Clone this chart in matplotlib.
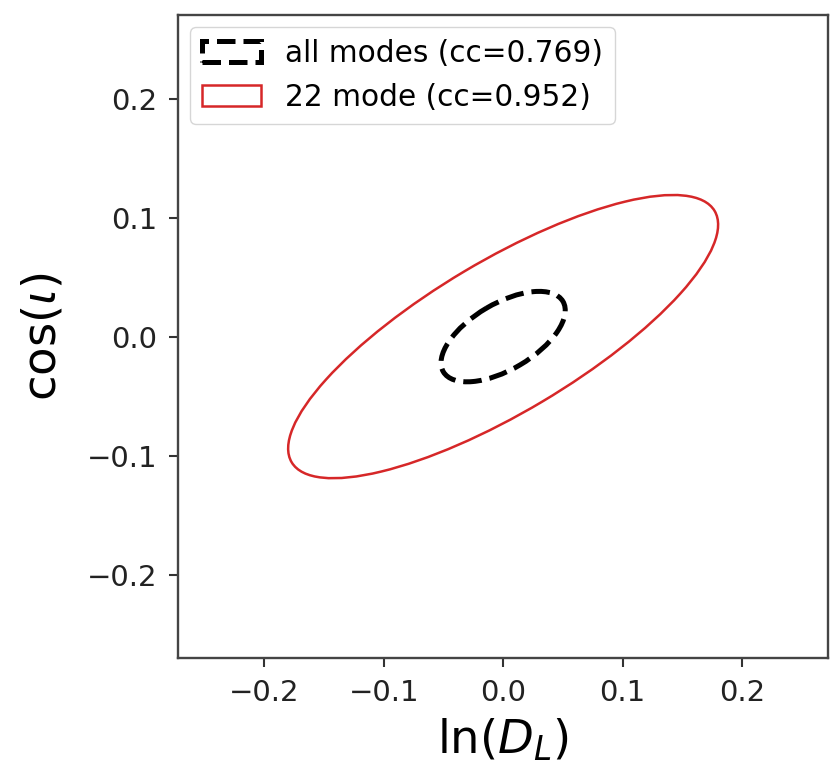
import numpy as np
import matplotlib
matplotlib.use('Agg')
import matplotlib.pyplot as plt
from matplotlib.patches import Ellipse

# contours: half extents along each axis and the tilt
labels = ['all modes (cc=0.769)', '22 mode (cc=0.952)']
sigma_x = [0.052, 0.180]
sigma_y = [0.038, 0.119]
tilt = [0.58, 0.79]
colors = ['black', 'tab:red']
styles = ['--', '-']
widths = [3.6, 1.8]

fig = plt.figure(figsize=(8.33, 7.65), dpi=100)
ax = fig.add_axes([0.214, 0.140, 0.780, 0.840])

handles = []
for lab, sx, sy, r, c, ls, lw in zip(labels, sigma_x, sigma_y, tilt, colors, styles, widths):
    cov = np.array([[sx**2, r*sx*sy], [r*sx*sy, sy**2]])
    vals, vecs = np.linalg.eigh(cov)
    angle = np.degrees(np.arctan2(vecs[1, -1], vecs[0, -1]))
    e = Ellipse((0, 0), 2*np.sqrt(vals[-1]), 2*np.sqrt(vals[0]), angle=angle,
                fill=False, edgecolor=c, linestyle=ls, linewidth=lw, label=lab)
    ax.add_patch(e)
    handles.append(e)

ax.set_xlim(-0.272, 0.272)
ax.set_ylim(-0.27, 0.27)
ax.set_xticks([-0.2, -0.1, 0.0, 0.1, 0.2])
ax.set_yticks([-0.2, -0.1, 0.0, 0.1, 0.2])
ax.tick_params(labelsize=21, length=6.3, width=1.5, color='#333333',
               labelcolor='#222222', pad=9)
for s in ax.spines.values():
    s.set_linewidth(1.7)
    s.set_color('#444444')

ax.set_xlabel(r'$\ln(D_L)$', fontsize=33.5, labelpad=7)
ax.set_ylabel(r'$\cos(\iota)$', fontsize=33.5, labelpad=15)
ax.legend(handles=handles, loc='upper left', fontsize=21.3, borderaxespad=0.4)

fig.savefig('out.png', dpi=100)
